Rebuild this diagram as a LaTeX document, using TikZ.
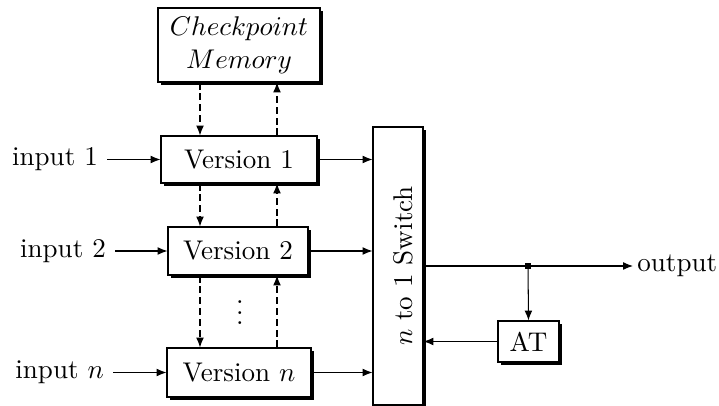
\RequirePackage{fix-cm}
\documentclass[tikz,border=0pt]{standalone}
\usetikzlibrary{arrows.meta,shadows}
\begin{document}
\def\pxu{0.3846}
\begin{tikzpicture}[x=0.3846pt,y=-0.3846pt,
  every node/.style={font=\fontsize{10.4pt}{12.5pt}\selectfont},
  box/.style={draw,line width=0.4pt,fill=white,inner sep=0pt,
    drop shadow={shadow xshift=1.3pt,shadow yshift=-1.3pt,fill=black,opacity=1}},
  conn/.style={line width=0.4pt,-{Latex[length=3.8pt,width=3pt]}},
  dconn/.style={conn,dash pattern=on 2.7pt off 1.5pt},
  lbl/.style={inner sep=3.33pt}]
\useasboundingbox (0,0) rectangle (719,406);

% boxes
\node[box,minimum width={162*\pxu pt},minimum height={74*\pxu pt},align=center]
  (mem) at (239,45) {$Checkpoint$\\$Memory$};
\node[box,minimum width={156*\pxu pt},minimum height={47*\pxu pt}] (v1) at (239,159.5) {Version 1};
\node[box,minimum width={140*\pxu pt},minimum height={48*\pxu pt}] (v2) at (238,251) {Version 2};
\node[box,minimum width={144*\pxu pt},minimum height={49*\pxu pt}] (vn) at (239,372.5) {Version $n$};
\node[box,minimum width={50*\pxu pt},minimum height={278*\pxu pt}] (sw) at (398,266) {};
\node[rotate=90] (swl) at (403,266) {$n$ to 1 Switch};
\node[box,minimum width={61*\pxu pt},minimum height={41*\pxu pt}] (at) at (528.5,341.5) {AT};

% inputs and output labels
\node[lbl,anchor=east] (in1) at (107,159.5) {input 1};
\node[lbl,anchor=east] (in2) at (115,251) {input 2};
\node[lbl,anchor=east] (inn) at (113,372.5) {input $n$};
\node[inner sep=1.5pt,anchor=west] (out) at (633,266) {output};

% columns of the checkpoint links
\coordinate (cl) at (200,0);
\coordinate (cr) at (277,0);
\node[anchor=base,inner sep=0pt] (dots) at (240,324.5) {$\vdots$};

% inputs into the versions
\draw[conn] (in1.east) -- (v1.west);
\draw[conn] (in2.east) -- (v2.west);
\draw[conn] (inn.east) -- (vn.west);

% checkpoint links
\draw[dconn] (mem.south -| cl) -- (v1.north -| cl);
\draw[dconn] (v1.north -| cr) -- (mem.south -| cr);
\draw[dconn] (v1.south -| cl) -- (v2.north -| cl);
\draw[dconn] (v2.north -| cr) -- (v1.south -| cr);
\draw[dconn] (v2.south -| cl) -- (vn.north -| cl);
\draw[dconn] (vn.north -| cr) -- (v2.south -| cr);

% versions into the switch
\draw[conn] (v1.east) -- (v1.east -| sw.west);
\draw[conn] (v2.east) -- (v2.east -| sw.west);
\draw[conn] (vn.east) -- (vn.east -| sw.west);

% output and acceptance test
\coordinate (j) at (528,266);
\draw[conn] (sw.east |- j) -- (out.west);
\fill (j) +(-2.6,-2.6) rectangle +(2.6,2.6);
\draw[conn] (j) -- (at.north);
\draw[conn] (at.west) -- (at.west -| sw.east);
\end{tikzpicture}
\end{document}
